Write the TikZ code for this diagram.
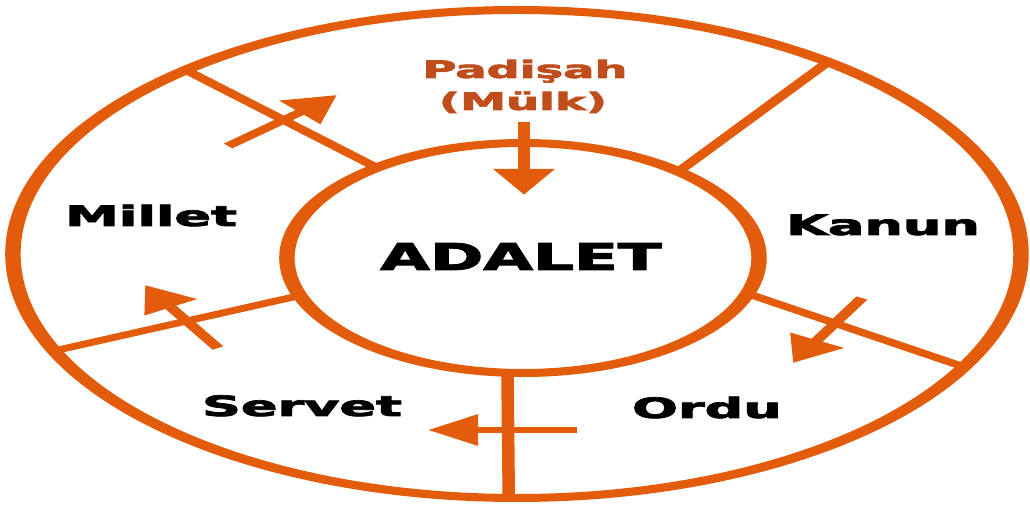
\documentclass[tikz,border=0pt]{standalone}
\usepackage{graphicx}
\usepackage{fontspec}
\setmainfont{DejaVu Sans}[BoldFeatures={FakeBold=2.5}]
\usetikzlibrary{arrows.meta,shapes.geometric}

\definecolor{ringorange}{RGB}{226,92,12}
\definecolor{titlebrown}{RGB}{192,78,28}

\tikzset{
	ring/.style={ellipse, draw=ringorange, line width=8pt, outer sep=0pt, inner sep=0pt},
	divider/.style={draw=ringorange, line width=6.5pt},
	flow/.style={color=ringorange, line width=6.5pt, -{Triangle[width=30pt,length=26pt]}},
	part/.style={font=\bfseries\fontsize{28}{30}\selectfont, anchor=base},
	toplbl/.style={font=\bfseries\fontsize{24}{28}\selectfont, text=titlebrown, anchor=base}
}

\begin{document}
\begin{tikzpicture}[x=1pt,y=1pt]
	\useasboundingbox (0,0) rectangle (1030,505);
	\begin{scope}[x=0.5181pt, transform canvas={xscale=1.93}]
	% Rings {outer, inner}
	\node [ring, minimum width=522.3pt, minimum height=488pt]	(outer)	at (517,251)	{};
	\node [ring, minimum width=244.6pt, minimum height=230pt]	(inner)	at (523,247)	{};
	
	% Dividers
	\path [divider]	(inner.130)	--	(outer.133);
	\path [divider]	(inner.47)	--	(outer.50);
	\path [divider]	(inner.343)	--	(outer.334);
	\path [divider]	(inner.266)	--	(outer.269);
	\path [divider]	(inner.198)	--	(outer.202);
	
	% Labels
	\node [toplbl]	(padisah)	at (525,427)	{Padişah};
	\node [toplbl]	(mulk)		at (523,395)	{(Mülk)};
	\node [part]	(millet)	at (151,279)	{Millet};
	\node [part]	(kanun)		at (883,270)	{Kanun};
	\node [part]	(servet)	at (302,89)		{Servet};
	\node [part]	(ordu)		at (707,87)		{Ordu};
	\node [part, font=\bfseries\fontsize{37}{40}\selectfont]	(adalet)	at (521,235)	{\scalebox{0.9}[1]{ADALET}};
	
	% Flow arrows
	\coordinate (f1s) at (228,359);	\coordinate (f1e) at (337,410);
	\coordinate (f2s) at (524,383);	\coordinate (f2e) at (524,310);
	\coordinate (f3s) at (862,207);	\coordinate (f3e) at (793,142);
	\coordinate (f4s) at (577,75);	\coordinate (f4e) at (428,75);
	\coordinate (f5s) at (218,157);	\coordinate (f5e) at (145,220);
	\draw [flow]	(f1s) -- (f1e);
	\draw [flow]	(f2s) -- (f2e);
	\draw [flow]	(f3s) -- (f3e);
	\draw [flow]	(f4s) -- (f4e);
	\draw [flow]	(f5s) -- (f5e);
	\end{scope}
\end{tikzpicture}
\end{document}
